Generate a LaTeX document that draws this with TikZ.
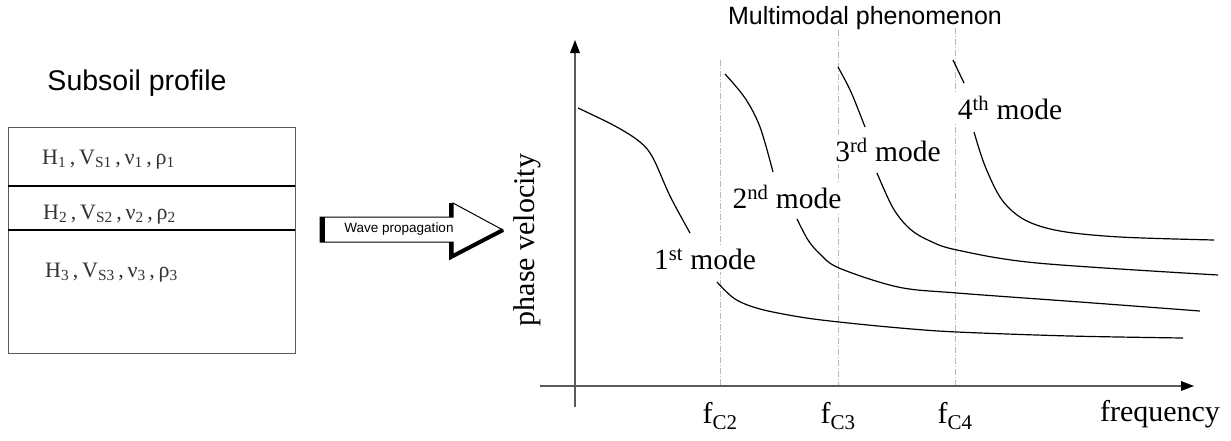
\documentclass[tikz,border=0pt]{standalone}
\usepackage{fontspec}
\setmainfont{Liberation Serif}
\newfontfamily\arial{Liberation Sans}
\usetikzlibrary{arrows.meta}
\definecolor{axisgray}{HTML}{5A5A5A}
\definecolor{dashgray}{HTML}{B8B8B8}
\definecolor{txtgray}{HTML}{333333}
\tikzset{
  axisline/.style={draw=axisgray, line width=2pt},
  guide/.style={draw=dashgray, line width=0.8pt, dash pattern=on 6pt off 2pt on 1pt off 2pt},
  curve/.style={draw=black, line width=1.2pt, smooth, tension=0.55},
  modelabel/.style={font=\fontsize{29.5}{30}\selectfont, fill=white, inner sep=3pt},
  layertext/.style={font=\fontsize{22}{23}\selectfont, text=txtgray, anchor=west, inner sep=0pt},
  axislabel/.style={font=\fontsize{30}{31}\selectfont, inner sep=0pt},
  titletext/.style={font=\arial\fontsize{28.5}{30}\selectfont, inner sep=0pt}
}
\begin{document}
\begin{tikzpicture}[x=1pt,y=-1pt]
\useasboundingbox (0,0) rectangle (1231,440);
% titles
\node[titletext] (t1) at (137,83) {Subsoil profile};
\node[titletext, font=\arial\fontsize{25}{27}\selectfont] (t2) at (865,18) {Multimodal phenomenon};
% subsoil box
\draw[draw=axisgray, line width=1pt] (8,127) rectangle (295,353);
\draw[line width=1.5pt] (8,186) -- (295,186);
\draw[line width=1.5pt] (8,230) -- (295,230);
\node[layertext] (l1) at (42,160) {H\textsubscript{1}\,,\,V\textsubscript{S1}\,,\,ν\textsubscript{1}\,,\,ρ\textsubscript{1}};
\node[layertext] (l2) at (43,215) {H\textsubscript{2}\,,\,V\textsubscript{S2}\,,\,ν\textsubscript{2}\,,\,ρ\textsubscript{2}};
\node[layertext] (l3) at (45,273) {H\textsubscript{3}\,,\,V\textsubscript{S3}\,,\,ν\textsubscript{3}\,,\,ρ\textsubscript{3}};
% wave propagation arrow
\draw[fill=white, line width=1pt, line join=miter] (320,217) -- (453,217) -- (453,203) -- (503,230) -- (453,257) -- (453,242) -- (320,242) -- cycle;
\draw[line width=5pt] (322.5,217) -- (322.5,242);
\draw[line width=4pt] (451,203) -- (451,217);
\draw[line width=4pt, line join=miter] (451,242) -- (451,257) -- (503,230);
\node[font=\arial\fontsize{13.5}{14}\selectfont, inner sep=0pt] (wp) at (399,229) {Wave propagation};
% guides
\draw[guide] (720,60) -- (720,386);
\draw[guide] (838,30) -- (838,386);
\draw[guide] (955,28) -- (955,386);
% axes
\draw[axisline] (575,407) -- (575,52);
\fill[black] (575,40) -- (570,53) -- (580,53) -- cycle;
\draw[axisline] (540,386) -- (1182,386);
\fill[black] (1194,386) -- (1181,381) -- (1181,391) -- cycle;
% curves
\draw[curve] plot coordinates {(578,108) (615,126) (640,142) (653,158) (670,196) (690,233)};
\draw[curve] plot coordinates {(717,282) (735,299) (760,309) (800,317) (839,322) (900,328) (957,332) (1070,336) (1183,338)};
\draw[curve] plot coordinates {(725,74) (745,98) (760,127) (773,172)};
\draw[curve] plot coordinates {(797,219) (808,240) (820,254) (839,268) (898,287) (957,293) (1080,302) (1200,311)};
\draw[curve] plot coordinates {(838,67) (851,92) (865,127)};
\draw[curve] plot coordinates {(877,173) (893,208) (910,229) (930,241) (957,250) (1037,263) (1218,275)};
\draw[curve] plot coordinates {(953,60) (964,83)};
\draw[curve] plot coordinates {(974,132) (985,166) (1002,200) (1025,220) (1060,231) (1120,237) (1214,240)};
% mode labels
\node[modelabel] (m1) at (705,259) {1\textsuperscript{st} mode};
\node[modelabel] (m2) at (787,197) {2\textsuperscript{nd} mode};
\node[modelabel] (m3) at (888,150) {3\textsuperscript{rd} mode};
\node[modelabel] (m4) at (1010,108) {4\textsuperscript{th} mode};
% axis labels
\node[axislabel, rotate=90] (yl) at (527,240) {phase velocity};
\node[axislabel] (fl) at (1160,414) {frequency};
\node[axislabel] (f2) at (720,416) {f\textsubscript{C2}};
\node[axislabel] (f3) at (838,416) {f\textsubscript{C3}};
\node[axislabel] (f4) at (955,416) {f\textsubscript{C4}};
\end{tikzpicture}
\end{document}
